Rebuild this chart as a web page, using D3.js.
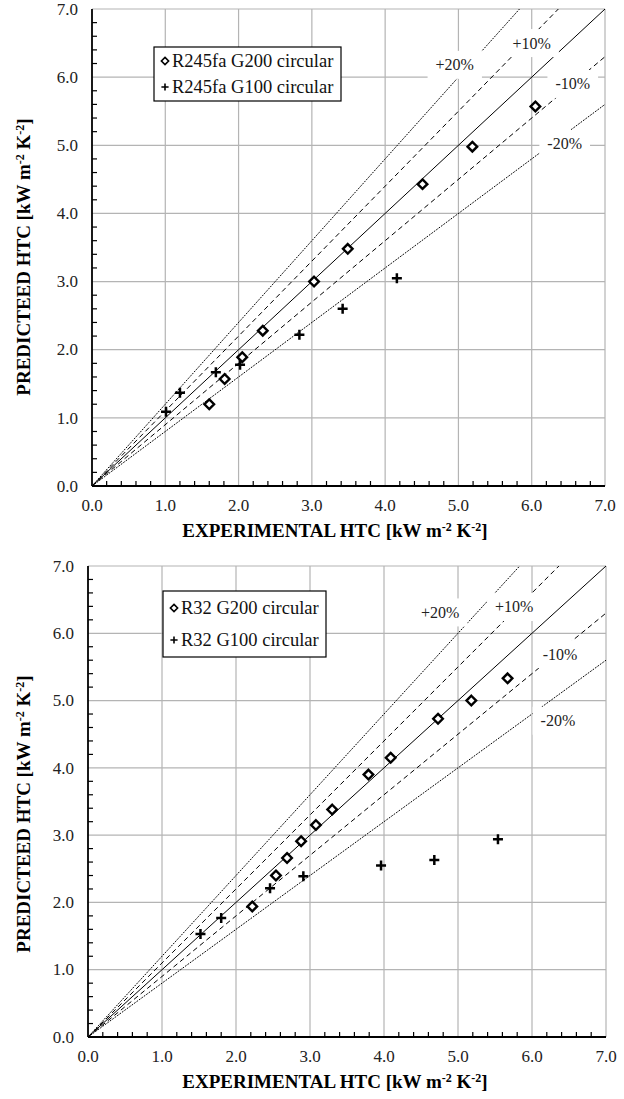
<!DOCTYPE html>
<html>
<head>
<meta charset="utf-8">
<script src="https://cdn.jsdelivr.net/npm/d3@7"></script>
<style>
  body { margin: 0; background: #fff; }
  svg, svg text { font-family: "Liberation Serif", "Times New Roman", "DejaVu Serif", serif; }
</style>
</head>
<body>
<div id="chart"></div>
<script>
// axis ticks (kW m-2 K-2)
const majorTicks = [0, 1, 2, 3, 4, 5, 6, 7];

// R245fa data
const r245G200X = [1.60, 1.81, 2.05, 2.33, 3.03, 3.49, 4.51, 5.19, 6.05];
const r245G200Y = [1.20, 1.57, 1.89, 2.28, 3.00, 3.48, 4.43, 4.98, 5.57];
const r245G100X = [1.01, 1.20, 1.69, 2.02, 2.83, 3.42, 4.16];
const r245G100Y = [1.09, 1.37, 1.67, 1.78, 2.22, 2.60, 3.05];

// R32 data
const r32G200X = [2.22, 2.54, 2.69, 2.88, 3.08, 3.30, 3.79, 4.09, 4.73, 5.18, 5.67];
const r32G200Y = [1.94, 2.40, 2.66, 2.91, 3.15, 3.38, 3.90, 4.15, 4.73, 5.00, 5.33];
const r32G100X = [1.52, 1.80, 2.46, 2.91, 3.96, 4.68, 5.54];
const r32G100Y = [1.53, 1.77, 2.21, 2.39, 2.55, 2.63, 2.94];

// deviation bands: predicted = factor * experimental
const bandFactors = [1.2, 1.1, 1.0, 0.9, 0.8];
const bandLabels = ["+20%", "+10%", "", "-10%", "-20%"];

const width = 624;
const height = 1099;
const serif = "'Liberation Serif', 'Times New Roman', 'DejaVu Serif', serif";

const svg = d3.select("#chart")
  .append("svg")
  .attr("width", width)
  .attr("height", height)
  .attr("font-family", serif);

const fmt = d3.format(".1f");

const panels = [
  {
    left: 92, right: 605, top: 9, bottom: 486,
    series: [
      { name: "R245fa G200 circular", x: r245G200X, y: r245G200Y, symbol: "diamond" },
      { name: "R245fa G100 circular", x: r245G100X, y: r245G100Y, symbol: "plus" },
    ],
    legend: { x: 154, y: 47, w: 187, h: 54, gap: 26 },
    // label anchor points in data units
    labelPos: [[4.95, 6.18], [6.0, 6.5], null, [6.56, 5.9], [6.45, 5.02]],
    titleX: 335, titleY: 537, yTitleX: 30, yTitleY: 257,
  },
  {
    left: 88, right: 606, top: 566, bottom: 1037,
    series: [
      { name: "R32 G200 circular", x: r32G200X, y: r32G200Y, symbol: "diamond" },
      { name: "R32 G100 circular", x: r32G100X, y: r32G100Y, symbol: "plus" },
    ],
    legend: { x: 163, y: 591, w: 163, h: 66, gap: 32 },
    labelPos: [[4.76, 6.31], [5.76, 6.39], null, [6.38, 5.69], [6.35, 4.70]],
    titleX: 335, titleY: 1088, yTitleX: 30, yTitleY: 814,
  },
];

const diamond = (s) => `M0,${-s}L${s},0L0,${s}L${-s},0Z`;
const plus = (s) => `M${-s},0H${s}M0,${-s}V${s}`;

function drawSymbol(g, symbol, size, sw) {
  if (symbol === "diamond") {
    g.append("path").attr("d", diamond(size))
      .attr("fill", "#fff").attr("stroke", "#000").attr("stroke-width", sw);
  } else {
    g.append("path").attr("d", plus(size))
      .attr("fill", "none").attr("stroke", "#000").attr("stroke-width", sw);
  }
}

function addUnitTitle(text, label) {
  // "[kW m-2 K-2]" with superscripts
  text.append("tspan").text(label + " [kW m");
  text.append("tspan").attr("dy", -6).attr("font-size", "12px").text("-2");
  text.append("tspan").attr("dy", 6).text(" K");
  text.append("tspan").attr("dy", -6).attr("font-size", "12px").text("-2");
  text.append("tspan").attr("dy", 6).text("]");
}

panels.forEach((p) => {
  const x = d3.scaleLinear().domain([0, 7]).range([p.left, p.right]);
  const y = d3.scaleLinear().domain([0, 7]).range([p.bottom, p.top]);
  const g = svg.append("g");

  // gridlines
  g.append("g").selectAll("line.vgrid")
    .data(majorTicks.slice(1))
    .enter().append("line")
    .attr("x1", (d) => x(d)).attr("x2", (d) => x(d))
    .attr("y1", y(0)).attr("y2", y(7))
    .attr("stroke", "#b4b4b4").attr("stroke-width", 1.2);
  g.append("g").selectAll("line.hgrid")
    .data(majorTicks.slice(1))
    .enter().append("line")
    .attr("y1", (d) => y(d)).attr("y2", (d) => y(d))
    .attr("x1", x(0)).attr("x2", x(7))
    .attr("stroke", "#b4b4b4").attr("stroke-width", 1.2);

  // deviation lines
  const dash = { 1.2: "1.8,1.2", 1.1: "5,3.5", 1.0: null, 0.9: "5,3.5", 0.8: "1.8,1.2" };
  g.append("g").selectAll("line.band")
    .data(bandFactors)
    .enter().append("line")
    .attr("x1", x(0)).attr("y1", y(0))
    .attr("x2", (f) => x(Math.min(7, 7 / f)))
    .attr("y2", (f) => y(Math.min(7, 7 / f) * f))
    .attr("stroke", "#000")
    .attr("stroke-width", 1)
    .attr("stroke-dasharray", (f) => dash[f]);

  // band labels on white boxes
  bandLabels.forEach((lab, i) => {
    if (!lab) return;
    const pos = p.labelPos[i];
    const lg = g.append("g").attr("transform", `translate(${x(pos[0])},${y(pos[1])})`);
    const t = lg.append("text")
      .attr("text-anchor", "middle")
      .attr("dy", "0.34em")
      .attr("font-size", "16px")
      .attr("fill", "#222")
      .text(lab);
    const bw = t.node().getComputedTextLength() + 16;
    lg.insert("rect", "text")
      .attr("x", -bw / 2).attr("y", -14)
      .attr("width", bw).attr("height", 28)
      .attr("fill", "#fff");
  });

  // axes lines
  g.append("line")
    .attr("x1", x(0)).attr("x2", x(0)).attr("y1", y(0)).attr("y2", y(7))
    .attr("stroke", "#000").attr("stroke-width", 1.8);
  g.append("line")
    .attr("x1", x(0)).attr("x2", x(7)).attr("y1", y(0)).attr("y2", y(0))
    .attr("stroke", "#000").attr("stroke-width", 1.8);

  // minor ticks every 0.2, pointing inward
  const minor = d3.range(1, 35).map((k) => k * 0.2).filter((v) => Math.abs(v - Math.round(v)) > 1e-6);
  g.append("g").selectAll("line.xminor")
    .data(minor)
    .enter().append("line")
    .attr("x1", (d) => x(d)).attr("x2", (d) => x(d))
    .attr("y1", y(0)).attr("y2", y(0) - 5)
    .attr("stroke", "#000").attr("stroke-width", 1.2);
  g.append("g").selectAll("line.yminor")
    .data(minor)
    .enter().append("line")
    .attr("y1", (d) => y(d)).attr("y2", (d) => y(d))
    .attr("x1", x(0)).attr("x2", x(0) + 5)
    .attr("stroke", "#000").attr("stroke-width", 1.2);

  // tick labels
  g.append("g").selectAll("text.xt")
    .data(majorTicks)
    .enter().append("text")
    .attr("x", (d) => x(d)).attr("y", y(0) + 25)
    .attr("text-anchor", "middle")
    .attr("font-size", "17px").attr("fill", "#222")
    .text(fmt);
  g.append("g").selectAll("text.yt")
    .data(majorTicks)
    .enter().append("text")
    .attr("x", x(0) - 14).attr("y", (d) => y(d))
    .attr("dy", "0.34em")
    .attr("text-anchor", "end")
    .attr("font-size", "17px").attr("fill", "#222")
    .text(fmt);

  // axis titles
  const xt = g.append("text")
    .attr("x", p.titleX).attr("y", p.titleY)
    .attr("text-anchor", "middle")
    .attr("font-size", "19px").attr("font-weight", "bold");
  addUnitTitle(xt, "EXPERIMENTAL HTC");
  const yt = g.append("text")
    .attr("transform", `translate(${p.yTitleX},${p.yTitleY}) rotate(-90)`)
    .attr("text-anchor", "middle")
    .attr("font-size", "19px").attr("font-weight", "bold");
  addUnitTitle(yt, "PREDICTEED HTC");

  // data markers
  p.series.forEach((s) => {
    s.x.forEach((vx, i) => {
      const mg = g.append("g").attr("transform", `translate(${x(vx)},${y(s.y[i])})`);
      drawSymbol(mg, s.symbol, s.symbol === "diamond" ? 4.8 : 5, s.symbol === "diamond" ? 2.4 : 2.5);
    });
  });

  // legend
  const L = p.legend;
  const leg = g.append("g");
  leg.append("rect")
    .attr("x", L.x).attr("y", L.y).attr("width", L.w).attr("height", L.h)
    .attr("fill", "#fff").attr("stroke", "#000").attr("stroke-width", 1.2);
  p.series.forEach((s, i) => {
    const cy = L.y + L.h / 2 + (i - 0.5) * L.gap;
    const sg = leg.append("g").attr("transform", `translate(${L.x + 11},${cy})`);
    drawSymbol(sg, s.symbol, 3.6, 1.6);
    leg.append("text")
      .attr("x", L.x + 18).attr("y", cy).attr("dy", "0.34em")
      .attr("font-size", "18.5px").attr("fill", "#111")
      .text(s.name);
  });
});
</script>
</body>
</html>
